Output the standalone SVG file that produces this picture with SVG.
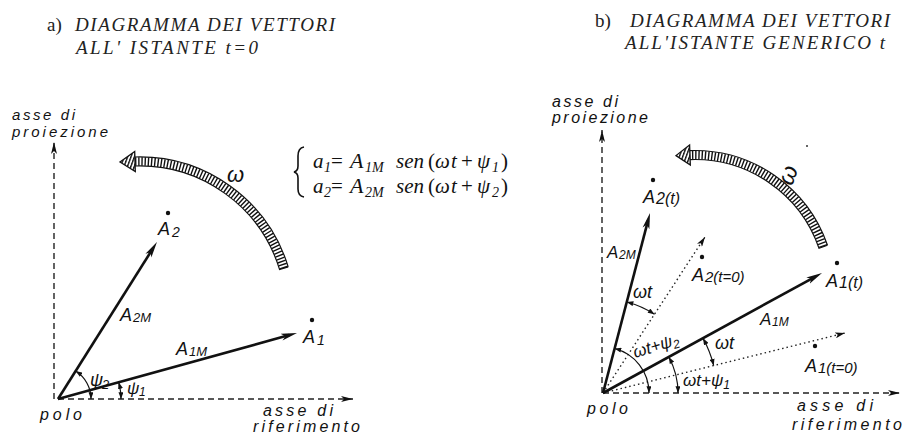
<svg xmlns="http://www.w3.org/2000/svg" width="904" height="434" viewBox="0 0 904 434">
<style>
.title{font-family:"Liberation Serif",serif;font-style:italic;font-size:19px;fill:#222}
.up{font-family:"Liberation Serif",serif;font-size:19px;fill:#222}
.eq{font-family:"Liberation Serif",serif;font-style:italic;font-size:21px;fill:#111}
.eqs{font-family:"Liberation Serif",serif;font-style:italic;font-size:14px;fill:#111}
.h{font-family:"Liberation Sans",sans-serif;font-style:italic;font-size:16px;fill:#111}
.A{font-family:"Liberation Sans",sans-serif;font-style:italic;fill:#111}
.s{font-family:"Liberation Sans",sans-serif;font-style:italic;fill:#111}
.vec{stroke:#111;stroke-width:2.6;fill:none;marker-end:url(#ah)}
.axis{stroke:#222;stroke-width:1.4;fill:none;stroke-dasharray:6 4;marker-end:url(#aha)}
.dot{stroke:#222;stroke-width:1.4;fill:none;stroke-dasharray:1.5 3;marker-end:url(#ahs)}
.arc{stroke:#111;stroke-width:1.2;fill:none;marker-end:url(#am);marker-start:url(#am)}
.band{stroke:#111;stroke-width:1.2;fill:none}
.hatch{stroke:#111;stroke-width:8.5;fill:none;stroke-dasharray:1.4 1.8}
.pt{fill:#111}
</style>
<defs>
<marker id="ah" viewBox="0 0 16 8" refX="8" refY="4" markerWidth="16" markerHeight="8" markerUnits="userSpaceOnUse" orient="auto"><path d="M0,0.5 L16,4 L0,7.5 L4,4 Z" fill="#111"/></marker>
<marker id="aha" viewBox="0 0 12 7" refX="12" refY="3.5" markerWidth="12" markerHeight="7" markerUnits="userSpaceOnUse" orient="auto"><path d="M0,0.5 L12,3.5 L0,6.5 L3,3.5 Z" fill="#111"/></marker>
<marker id="ahs" viewBox="0 0 10 6" refX="10" refY="3" markerWidth="10" markerHeight="6" markerUnits="userSpaceOnUse" orient="auto"><path d="M0,0 L10,3 L0,6 L2.5,3 Z" fill="#111"/></marker>
<marker id="am" viewBox="0 0 8 6" refX="8" refY="3" markerWidth="7" markerHeight="5" markerUnits="userSpaceOnUse" orient="auto-start-reverse"><path d="M0,0 L8,3 L0,6 Z" fill="#111"/></marker>
<pattern id="hp" width="3.2" height="3.2" patternUnits="userSpaceOnUse" patternTransform="rotate(20)"><rect width="1.4" height="3.2" fill="#111"/></pattern>
</defs>

<g id="titles">
<text class="up" x="47" y="31">a)</text>
<text class="title" x="75" y="31" textLength="260">DIAGRAMMA DEI VETTORI</text>
<text class="title" x="76" y="54" textLength="182">ALL' ISTANTE t=0</text>
<text class="up" x="595" y="27">b)</text>
<text class="title" x="630" y="27" textLength="260">DIAGRAMMA DEI VETTORI</text>
<text class="title" x="625" y="49" textLength="260">ALL'ISTANTE GENERICO t</text>
</g>

<g id="equations">
<path d="M304,147 Q298,148 298,156 L298,166 Q298,171 294,172 Q298,173 298,178 L298,189 Q298,196 304,197" stroke="#111" stroke-width="1.6" fill="none"/>
<text class="eq"><tspan x="313" y="168">a</tspan><tspan class="eqs" x="324" y="172">1</tspan><tspan x="331" y="168" style="font-style:normal">=</tspan><tspan x="350" y="168" style="font-size:22px">A</tspan><tspan class="eqs" x="365" y="172">1M</tspan><tspan x="396" y="168">sen</tspan><tspan x="428" y="168" style="font-style:normal">(</tspan><tspan x="435" y="168">ω</tspan><tspan x="451" y="168">t</tspan><tspan x="461" y="168" style="font-style:normal">+</tspan><tspan x="477" y="168">ψ</tspan><tspan class="eqs" x="492" y="172">1</tspan><tspan x="501" y="168" style="font-style:normal">)</tspan></text>
<text class="eq"><tspan x="313" y="193">a</tspan><tspan class="eqs" x="324" y="197">2</tspan><tspan x="331" y="193" style="font-style:normal">=</tspan><tspan x="350" y="193" style="font-size:22px">A</tspan><tspan class="eqs" x="365" y="197">2M</tspan><tspan x="396" y="193">sen</tspan><tspan x="428" y="193" style="font-style:normal">(</tspan><tspan x="435" y="193">ω</tspan><tspan x="451" y="193">t</tspan><tspan x="461" y="193" style="font-style:normal">+</tspan><tspan x="477" y="193">ψ</tspan><tspan class="eqs" x="492" y="197">2</tspan><tspan x="501" y="193" style="font-style:normal">)</tspan></text>
</g>

<g id="connectors">
<path class="axis" d="M54,399 L54,142"/>
<path class="axis" d="M58,399 L353,399"/>
<path class="axis" d="M602,393 L602,130"/>
<path class="axis" d="M603,393 L900,393"/>
<path class="vec" d="M58,399 L289.3,335.1"/>
<path class="vec" d="M58,399 L152.7,248.8"/>
<path class="dot" d="M603,393 L845,333"/>
<path class="dot" d="M603,393 L705,237"/>
<path class="vec" d="M603,393 L815,276.8"/>
<path class="vec" d="M603,393 L648,220.7"/>
<path class="arc" d="M91,399 A33,33 0 0 0 75.6,371.1"/>
<path class="arc" d="M121,399 A63,63 0 0 0 118.7,382.3"/>
<path class="arc" d="M649,393 A46,46 0 0 0 614.6,348.5"/>
<path class="arc" d="M678,393 A75,75 0 0 0 668.8,357"/>
<path class="arc" d="M713.7,365.6 A114,114 0 0 0 703,338.3"/>
<path class="arc" d="M654.5,314.3 A94,94 0 0 0 626.7,302"/>
</g>

<g id="omega-left">
<path class="hatch" d="M283.9,268.2 A151,151 0 0 0 135,161.5"/>
<path class="band" d="M288.2,266.9 A155.5,155.5 0 0 0 134.9,157 M135.1,166 A146.5,146.5 0 0 1 279.6,269.6 L288.2,266.9"/>
<path d="M134.7,151.5 L120,162 L135.3,171.5 Z" fill="url(#hp)" stroke="#111" stroke-width="1.3"/>
<text class="A" x="227" y="182" style="font-size:22px">ω</text>
</g>

<g id="omega-right">
<path class="hatch" d="M823.3,246.7 A136,136 0 0 0 690,155.1"/>
<path class="band" d="M827.5,245.3 A140.5,140.5 0 0 0 689.8,150.6 M690.1,159.6 A131.5,131.5 0 0 1 819,248.2 L827.5,245.3"/>
<path d="M689.6,145.1 L676,155.6 L690.3,165.1 Z" fill="url(#hp)" stroke="#111" stroke-width="1.3"/>
<text class="A" x="0" y="0" style="font-size:24px" transform="translate(789,177) rotate(-70) translate(-8,6)">ω</text>
<circle cx="807" cy="146" r="1" fill="#333"/>
</g>

<g id="left-labels">
<text class="h" x="12" y="120" textLength="63" style="font-size:15px">asse di</text>
<text class="h" x="12" y="137" textLength="96" style="font-size:15px">proiezione</text>
<text class="h" x="40" y="420" textLength="42">polo</text>
<text class="h" x="263" y="416" textLength="70">asse di</text>
<text class="h" x="253" y="432" textLength="107">riferimento</text>
</g>

<g id="left-A2">
<circle class="pt" cx="168" cy="213" r="2.2"/>
<text class="A" x="158" y="235" style="font-size:18px">A</text><text class="s" x="172" y="237" style="font-size:14px">2</text>
</g>
<g id="left-A1">
<circle class="pt" cx="312" cy="320" r="2.2"/>
<text class="A" x="303" y="343" style="font-size:18px">A</text><text class="s" x="317" y="345" style="font-size:14px">1</text>
</g>
<g id="left-vector-labels">
<text class="A" x="120" y="321" style="font-size:18px">A</text><text class="s" x="133" y="322" style="font-size:13px">2M</text>
<text class="A" x="176" y="355" style="font-size:18px">A</text><text class="s" x="189" y="356" style="font-size:13px">1M</text>
<text class="A" x="90" y="386" style="font-size:18px">ψ</text><text class="s" x="102" y="389" style="font-size:13px">2</text>
<text class="A" x="127" y="394" style="font-size:17px">ψ</text><text class="s" x="139" y="396" style="font-size:12px">1</text>
</g>

<g id="right-labels">
<text class="h" x="552" y="107" textLength="66">asse di</text>
<text class="h" x="552" y="123" textLength="96">proiezione</text>
<text class="h" x="587" y="414" textLength="41">polo</text>
<text class="h" x="797" y="411" textLength="76">asse di</text>
<text class="h" x="792" y="430" textLength="110">riferimento</text>
</g>

<g id="right-A2t">
<circle class="pt" cx="653" cy="180" r="2.2"/>
<text class="A" x="643" y="203" style="font-size:18px">A</text><text class="s" x="656" y="204" style="font-size:16px">2(t)</text>
</g>
<g id="right-A20">
<circle class="pt" cx="702" cy="257" r="2.2"/>
<text class="A" x="692" y="281" style="font-size:18px">A</text><text class="s" x="705" y="282" style="font-size:15px">2(t=0)</text>
</g>
<g id="right-A1t">
<circle class="pt" cx="837" cy="263" r="2.2"/>
<text class="A" x="826" y="287" style="font-size:18px">A</text><text class="s" x="839" y="288" style="font-size:16px">1(t)</text>
</g>
<g id="right-A10">
<circle class="pt" cx="815" cy="346" r="2.2"/>
<text class="A" x="805" y="372" style="font-size:18px">A</text><text class="s" x="818" y="373" style="font-size:15px">1(t=0)</text>
</g>
<g id="right-vector-labels">
<text class="A" x="607" y="258" style="font-size:17px">A</text><text class="s" x="619" y="259" style="font-size:12px">2M</text>
<text class="A" x="760" y="325" style="font-size:17px">A</text><text class="s" x="772" y="326" style="font-size:12px">1M</text>
<text class="A" x="633" y="298" style="font-size:18px">ωt</text>
<text class="A" x="715" y="349" style="font-size:18px">ωt</text>
<text class="A" x="0" y="0" style="font-size:17px" transform="translate(635,358) rotate(-17)">ωt+ψ<tspan style="font-size:12px" dy="3">2</tspan></text>
<text class="A" x="683" y="386" style="font-size:17px">ωt+ψ<tspan style="font-size:12px" dy="3">1</tspan></text>
</g>
</svg>
